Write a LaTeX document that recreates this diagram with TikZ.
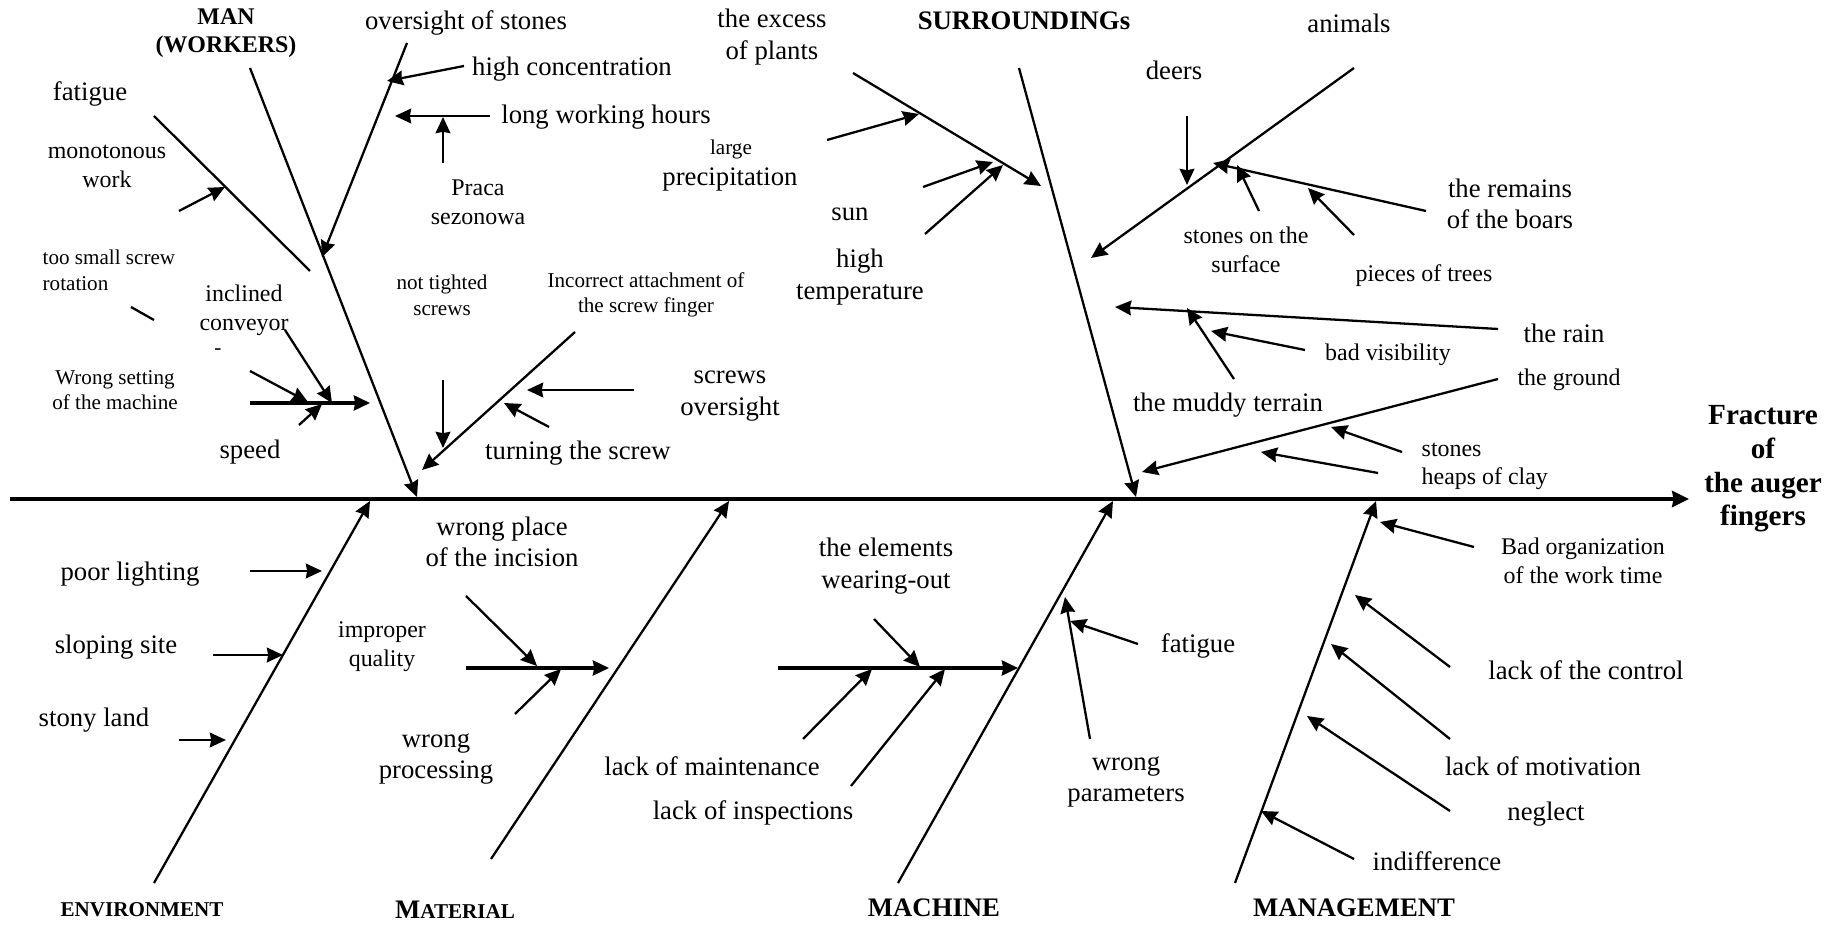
\documentclass[tikz,border=0pt]{standalone}
\usepackage{fontspec}
\setmainfont{Liberation Serif}
\usetikzlibrary{arrows.meta}

\begin{document}
\begin{tikzpicture}[x=0.01cm,y=-0.01cm]
\tikzstyle{big} = [inner sep=0pt, align=center, font=\fontsize{7.6}{9}\selectfont]
\tikzstyle{mid} = [inner sep=0pt, align=center, font=\fontsize{6.8}{8.2}\selectfont]
\tikzstyle{small} = [inner sep=0pt, align=center, font=\fontsize{6}{7.3}\selectfont]
\tikzstyle{head} = [inner sep=0pt, align=center, font=\bfseries\fontsize{7.6}{8}\selectfont]
\tikzstyle{twig} = [line width=0.65pt, -{Stealth[length=4.6pt,width=4.2pt,inset=0.4pt]}]
\tikzstyle{shaft} = [line width=0.9pt, -{Stealth[length=4.6pt,width=4.3pt,inset=0.4pt]}]
\tikzstyle{stub} = [line width=0.65pt]
\tikzstyle{spine} = [line width=1pt, -{Stealth[length=4.8pt,width=4.6pt,inset=0.4pt]}]
\useasboundingbox (0,0) rectangle (1836,925);

% main spine and effect
\coordinate (tail) at (10,499);
\coordinate (head) at (1689,499);
\draw [spine](tail) -- (head);
\node[head, font=\bfseries\fontsize{8.3}{9.6}\selectfont] at (1763,469) (effect){Fracture\\of\\the auger\\fingers};

% MAN (WORKERS)
\node[head, font=\bfseries\fontsize{6.8}{8}\selectfont] at (226,33) (man){MAN\\(WORKERS)};
\coordinate (manA) at (250,68);
\coordinate (manB) at (417,497);
\draw [twig](manA) -- (manB);

\node[big] at (90,94) (fatigA){fatigue};
\coordinate (fatA) at (154,116);
\coordinate (fatB) at (310,271);
\draw [stub](fatA) -- (fatB);

\node[mid] at (107,166) (monot){monotonous\\work};
\coordinate (monA) at (179,211);
\coordinate (monB) at (225,187);
\draw [twig](monA) -- (monB);

\node[big] at (466,23) (overs){oversight of stones};
\coordinate (ovsA) at (407,43);
\coordinate (ovsB) at (322,257);
\draw [twig](ovsA) -- (ovsB);

\node[big] at (572,69) (conc){high concentration};
\coordinate (concA) at (464,66);
\coordinate (concB) at (387,81);
\draw [twig](concA) -- (concB);

\node[big] at (606,117) (hours){long working hours};
\coordinate (hrsA) at (490,116);
\coordinate (hrsB) at (395,116);
\draw [twig](hrsA) -- (hrsB);

\node[mid] at (478,202) (praca){Praca\\sezonowa};
\coordinate (prA) at (443,163);
\coordinate (prB) at (443,117);
\draw [twig](prA) -- (prB);

\node[small, anchor=west, align=left] at (42,270) (rotat){too small screw\\rotation};
\coordinate (rotA) at (131,307);
\coordinate (rotB) at (154,320);
\draw [stub](rotA) -- (rotB);

\node[mid] at (244,310) (convey){inclined\\conveyor};
\node[small] at (218,352) (dash){-};
\coordinate (cvA) at (285,330);
\coordinate (cvB) at (332,403);
\draw [twig](cvA) -- (cvB);

\node[small] at (115,390) (setting){Wrong setting\\of the machine};
\coordinate (setA) at (250,403);
\coordinate (setB) at (370,403);
\coordinate (setC) at (250,371);
\coordinate (setD) at (308,402);
\draw [shaft](setA) -- (setB);
\draw [twig](setC) -- (setD);

\node[big] at (250,452) (speed){speed};
\coordinate (spdA) at (299,425);
\coordinate (spdB) at (322,404);
\draw [twig](spdA) -- (spdB);

\node[small] at (442,295) (nottig){not tighted\\screws};
\coordinate (ntA) at (443,380);
\coordinate (ntB) at (443,448);
\draw [twig](ntA) -- (ntB);

\node[small] at (646,295) (attach){Incorrect attachment of\\the screw finger};
\coordinate (attA) at (575,332);
\coordinate (attB) at (422,470);
\draw [twig](attA) -- (attB);

\node[big] at (730,396) (scrov){screws\\oversight};
\coordinate (scA) at (634,390);
\coordinate (scB) at (527,390);
\draw [twig](scA) -- (scB);

\node[big] at (578,453) (turn){turning the screw};
\coordinate (tuA) at (549,427);
\coordinate (tuB) at (504,403);
\draw [twig](tuA) -- (tuB);

% SURROUNDINGs
\node[head] at (1024,21) (surr){SURROUNDINGs};
\coordinate (surA) at (1019,68);
\coordinate (surB) at (1136,497);
\draw [twig](surA) -- (surB);

\node[big] at (772,37) (excess){the excess\\of plants};
\coordinate (excA) at (853,73);
\coordinate (excB) at (1041,186);
\draw [twig](excA) -- (excB);

\node[small] at (731,149) (large){large};
\node[big] at (730,180) (precip){precipitation};
\coordinate (preA) at (827,140);
\coordinate (preB) at (919,114);
\draw [twig](preA) -- (preB);

\node[big] at (850,214) (sun){sun};
\coordinate (sunA) at (923,187);
\coordinate (sunB) at (993,162);
\draw [twig](sunA) -- (sunB);

\node[big] at (860,277) (temp){high\\temperature};
\coordinate (tmpA) at (925,234);
\coordinate (tmpB) at (1003,165);
\draw [twig](tmpA) -- (tmpB);

\node[big] at (1349,23) (animals){animals};
\coordinate (aniA) at (1354,68);
\coordinate (aniB) at (1091,258);
\draw [twig](aniA) -- (aniB);

\node[big] at (1174,70) (deers){deers};
\coordinate (deA) at (1187,116);
\coordinate (deB) at (1187,185);
\draw [twig](deA) -- (deB);

\node[big] at (1510,204) (boars){the remains\\of the boars};
\coordinate (boA) at (1426,211);
\coordinate (boB) at (1213,163);
\draw [twig](boA) -- (boB);

\node[mid] at (1246,250) (surface){stones on the\\surface};
\coordinate (sfA) at (1259,211);
\coordinate (sfB) at (1237,165);
\draw [twig](sfA) -- (sfB);

\node[mid] at (1424,276) (trees){pieces of trees};
\coordinate (trA) at (1354,235);
\coordinate (trB) at (1308,188);
\draw [twig](trA) -- (trB);

\node[big] at (1564,333) (rain){the rain};
\coordinate (rnA) at (1498,329);
\coordinate (rnB) at (1115,307);
\draw [twig](rnA) -- (rnB);

\node[mid] at (1388,355) (visib){bad visibility};
\coordinate (viA) at (1305,350);
\coordinate (viB) at (1211,331);
\draw [twig](viA) -- (viB);

\node[big] at (1228,405) (muddy){the muddy terrain};
\coordinate (muA) at (1234,379);
\coordinate (muB) at (1187,308);
\draw [twig](muA) -- (muB);

\node[mid] at (1569,380) (ground){the ground};
\coordinate (grA) at (1498,379);
\coordinate (grB) at (1142,472);
\draw [twig](grA) -- (grB);

\node[mid, anchor=west] at (1421,450) (stones){stones};
\coordinate (stA) at (1402,452);
\coordinate (stB) at (1331,427);
\draw [twig](stA) -- (stB);

\node[mid, anchor=west] at (1421,479) (clay){heaps of clay};
\coordinate (clA) at (1378,473);
\coordinate (clB) at (1261,452);
\draw [twig](clA) -- (clB);

% ENVIRONMENT
\node[head, font=\bfseries\fontsize{6}{7}\selectfont] at (142,910) (env){ENVIRONMENT};
\coordinate (envA) at (154,883);
\coordinate (envB) at (370,501);
\draw [twig](envA) -- (envB);

\node[big] at (130,574) (light){poor lighting};
\coordinate (liA) at (250,571);
\coordinate (liB) at (322,571);
\draw [twig](liA) -- (liB);

\node[big] at (116,647) (slope){sloping site};
\coordinate (slA) at (213,655);
\coordinate (slB) at (283,655);
\draw [twig](slA) -- (slB);

\node[big] at (94,720) (stony){stony land};
\coordinate (syA) at (179,740);
\coordinate (syB) at (226,740);
\draw [twig](syA) -- (syB);

% MATERIAL
\node[head] at (455,910) (mat){M{\fontsize{6}{7}\selectfont ATERIAL}};
\coordinate (matA) at (491,859);
\coordinate (matB) at (729,501);
\draw [twig](matA) -- (matB);

\node[mid] at (382,647) (quality){improper\\quality};
\coordinate (quA) at (466,668);
\coordinate (quB) at (609,668);
\draw [shaft](quA) -- (quB);

\node[big] at (502,542) (incis){wrong place\\of the incision};
\coordinate (inA) at (466,596);
\coordinate (inB) at (537,666);
\draw [twig](inA) -- (inB);

\node[big] at (436,759) (process){wrong\\processing};
\coordinate (pcA) at (515,714);
\coordinate (pcB) at (561,669);
\draw [twig](pcA) -- (pcB);

% MACHINE
\node[head] at (934,908) (mach){MACHINE};
\coordinate (macA) at (898,883);
\coordinate (macB) at (1113,501);
\draw [twig](macA) -- (macB);

\node[big] at (886,566) (wear){the elements\\wearing-out};
\coordinate (wrA) at (778,668);
\coordinate (wrB) at (1018,668);
\coordinate (wrC) at (874,619);
\coordinate (wrD) at (920,667);
\draw [shaft](wrA) -- (wrB);
\draw [twig](wrC) -- (wrD);

\node[big] at (712,766) (maint){lack of maintenance};
\coordinate (mnA) at (803,739);
\coordinate (mnB) at (872,669);
\draw [twig](mnA) -- (mnB);

\node[big] at (753,813) (insp){lack of inspections};
\coordinate (ipA) at (851,786);
\coordinate (ipB) at (945,669);
\draw [twig](ipA) -- (ipB);

\node[big] at (1198,646) (fatigB){fatigue};
\coordinate (ftA) at (1138,644);
\coordinate (ftB) at (1070,621);
\draw [twig](ftA) -- (ftB);

\node[big] at (1126,782) (param){wrong\\parameters};
\coordinate (paA) at (1090,739);
\coordinate (paB) at (1065,597);
\draw [twig](paA) -- (paB);

% MANAGEMENT
\node[head] at (1354,908) (mgmt){MANAGEMENT};
\coordinate (mgA) at (1235,883);
\coordinate (mgB) at (1376,501);
\draw [twig](mgA) -- (mgB);

\node[mid] at (1583,561) (organ){Bad organization\\of the work time};
\coordinate (orA) at (1474,547);
\coordinate (orB) at (1380,522);
\draw [twig](orA) -- (orB);

\node[big] at (1586,670) (control){lack of the control};
\coordinate (coA) at (1450,667);
\coordinate (coB) at (1355,595);
\draw [twig](coA) -- (coB);

\node[big] at (1543,766) (motiv){lack of motivation};
\coordinate (moA) at (1450,739);
\coordinate (moB) at (1331,644);
\draw [twig](moA) -- (moB);

\node[big] at (1546,814) (neglect){neglect};
\coordinate (neA) at (1450,811);
\coordinate (neB) at (1307,716);
\draw [twig](neA) -- (neB);

\node[big] at (1437,861) (indiff){indifference};
\coordinate (idA) at (1354,859);
\coordinate (idB) at (1261,811);
\draw [twig](idA) -- (idB);
\end{tikzpicture}
\end{document}
